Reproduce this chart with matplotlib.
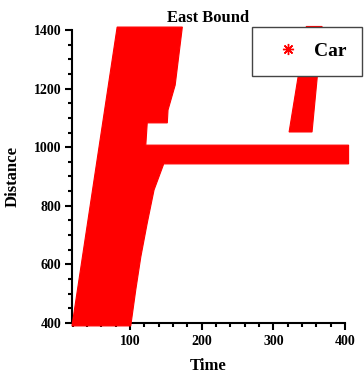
import numpy as np
import matplotlib
matplotlib.use("Agg")
import matplotlib.pyplot as plt
from matplotlib.lines import Line2D
from matplotlib.ticker import MultipleLocator

plt.rcParams['font.family'] = ['Liberation Serif', 'DejaVu Serif']
plt.rcParams['font.weight'] = 'bold'

# outline of the dense cloud of car points (time, distance)
main_time = [19, 82, 173, 163, 153, 152, 124, 122, 405, 405, 147, 133.5, 124, 115, 108, 101]
main_dist = [390, 1410, 1410, 1212, 1127, 1083, 1083, 1007, 1007, 943, 943, 854, 741, 625, 513, 390]

# second group of cars, right of the queue
island_time = [322, 354, 368, 346]
island_dist = [1052, 1052, 1412, 1412]

red = '#ff0000'

fig = plt.figure(figsize=(3.64, 3.74), dpi=100)
ax = fig.add_axes([0.1978, 0.1364, 0.75, 0.7834])

ax.fill(main_time, main_dist, color=red, lw=0.8, ec=red, clip_on=False, zorder=2)
ax.fill(island_time, island_dist, color=red, lw=0.8, ec=red, clip_on=False, zorder=2)

ax.set_xlim(19, 400)
ax.set_ylim(400, 1400)
ax.xaxis.set_major_locator(MultipleLocator(100))
ax.xaxis.set_minor_locator(MultipleLocator(20))
ax.yaxis.set_major_locator(MultipleLocator(200))
ax.yaxis.set_minor_locator(MultipleLocator(50))

for s in ['top', 'right']:
    ax.spines[s].set_visible(False)
for s in ['left', 'bottom']:
    ax.spines[s].set_linewidth(1.5)
    ax.spines[s].set_zorder(1)

ax.tick_params(which='major', length=5, width=1.5, direction='out', labelsize=10)
ax.tick_params(which='minor', length=3, width=1.5, direction='out')
ax.tick_params(axis='y', which='major', pad=2.5)
ax.tick_params(axis='x', which='major', pad=4)
for lab in ax.get_xticklabels() + ax.get_yticklabels():
    lab.set_fontweight('bold')

ax.set_title('East Bound', fontsize=12, fontweight='bold', pad=6)
ax.set_xlabel('Time', fontsize=12, fontweight='bold')
ax.set_ylabel('Distance', fontsize=12, fontweight='bold')
ax.xaxis.set_label_coords(0.5, -0.119)
ax.yaxis.set_label_coords(-0.187, 0.5)

handle = Line2D([], [], ls='none', marker=(8, 2, 0), markersize=8, color=red,
                markeredgewidth=1.0)
leg = ax.legend([handle], ['Car'], loc='upper right', bbox_to_anchor=(1.062, 1.010),
                borderaxespad=0, fancybox=False, framealpha=1, edgecolor='#444444',
                prop={'size': 14, 'weight': 'bold'}, handlelength=2.1,
                handletextpad=0.3, borderpad=0.8)
leg.get_frame().set_linewidth(1.0)
leg.set_zorder(5)

fig.savefig('out.png', dpi=100)
